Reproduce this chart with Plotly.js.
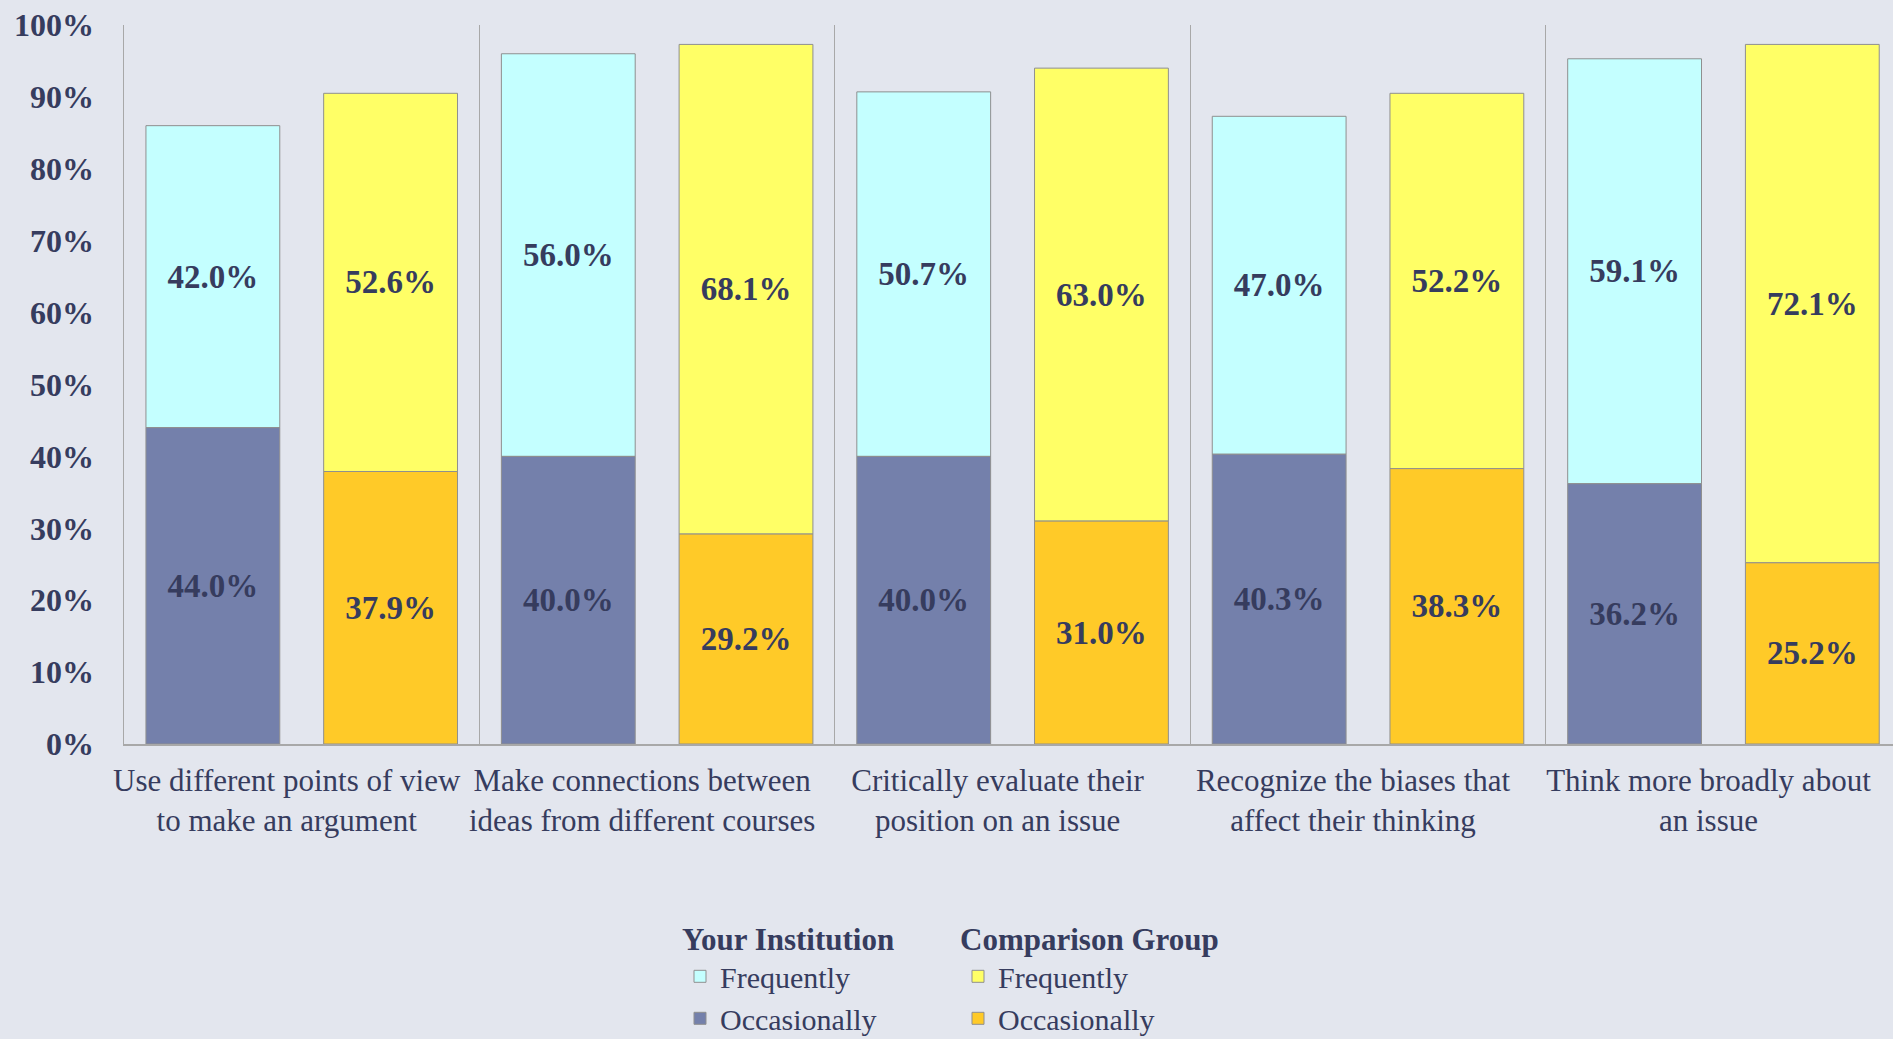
<!DOCTYPE html>
<html>
<head>
<meta charset="utf-8">
<script src="https://cdn.plot.ly/plotly-3.0.1.min.js"></script>
<style>
html,body{margin:0;padding:0;overflow:hidden;background:#e3e6ee;}
#chart{width:1893px;height:1039px;}
</style>
</head>
<body>
<div id="chart"></div>
<script>
const categories = [
  "Use different points of view<br>to make an argument",
  "Make connections between<br>ideas from different courses",
  "Critically evaluate their<br>position on an issue",
  "Recognize the biases that<br>affect their thinking",
  "Think more broadly about<br>an issue"
];
const instOccasionally = [44.0, 40.0, 40.0, 40.3, 36.2];
const instFrequently   = [42.0, 56.0, 50.7, 47.0, 59.1];
const compOccasionally = [37.9, 29.2, 31.0, 38.3, 25.2];
const compFrequently   = [52.6, 68.1, 63.0, 52.2, 72.1];
const yTicks = [0, 10, 20, 30, 40, 50, 60, 70, 80, 90, 100];
const yTickText = ['0%', '10%', '20%', '30%', '40%', '50%', '60%', '70%', '80%', '90%', '100%'];

const TXT = '#363c5e';
const SERIF = '"Liberation Serif", "DejaVu Serif", serif';
const fmt = a => a.map(v => v.toFixed(1) + '%');

function barTrace(name, y, base, color, group, legend) {
  return {
    type: 'bar', name: name, x: categories, y: y, base: base,
    offsetgroup: group, legend: legend,
    marker: {color: color, line: {color: '#8f8f8f', width: 1}},
    text: fmt(y), textposition: 'inside', insidetextanchor: 'middle',
    textangle: 0, constraintext: 'none',
    textfont: {family: SERIF, size: 33, color: TXT, weight: 'bold'},
    hoverinfo: 'skip'
  };
}

const data = [
  barTrace('Frequently', instFrequently, instOccasionally, '#c4ffff', 'inst', 'legend'),
  barTrace('Occasionally', instOccasionally, undefined, '#7480ab', 'inst', 'legend'),
  barTrace('Frequently', compFrequently, compOccasionally, '#ffff66', 'comp', 'legend2'),
  barTrace('Occasionally', compOccasionally, undefined, '#ffca28', 'comp', 'legend2')
];

const legendCommon = {
  orientation: 'v', xref: 'container', yref: 'container',
  xanchor: 'left', yanchor: 'top', bgcolor: 'rgba(0,0,0,0)',
  traceorder: 'normal',
  font: {family: SERIF, size: 30, color: TXT}
};
const legendTitleFont = {family: SERIF, size: 31, color: TXT, weight: 'bold'};

const layout = {
  width: 1893, height: 1039,
  paper_bgcolor: '#e3e6ee', plot_bgcolor: '#e3e6ee',
  margin: {l: 124, r: 0, t: 25, b: 295, autoexpand: false},
  barmode: 'group', bargap: 0, bargroupgap: 0.247,
  showlegend: true,
  font: {family: SERIF, color: TXT},
  xaxis: {
    type: 'category', range: [-0.5, 4.477], automargin: false,
    tickson: 'boundaries', showgrid: true, gridcolor: '#a8a8a8', gridwidth: 1,
    showline: true, linecolor: '#a8a8a8', linewidth: 1.5,
    ticks: '', tickangle: 0, ticklabelshift: -15, ticklabelstandoff: 8,
    tickfont: {family: SERIF, size: 31, color: TXT},
    fixedrange: true
  },
  yaxis: {
    range: [0, 100], tickmode: 'array', tickvals: yTicks, ticktext: yTickText,
    automargin: false,
    showgrid: false, zeroline: false,
    showline: true, linecolor: '#a8a8a8', linewidth: 1.5,
    ticks: '', ticklabelstandoff: 22,
    tickfont: {family: SERIF, size: 32, color: TXT, weight: 'bold'},
    fixedrange: true
  },
  legend: Object.assign({}, legendCommon, {
    x: 680 / 1893, y: 1 - 910 / 1039,
    title: {text: 'Your Institution', font: legendTitleFont, side: 'top'}
  }),
  legend2: Object.assign({}, legendCommon, {
    x: 958 / 1893, y: 1 - 910 / 1039,
    title: {text: 'Comparison Group', font: legendTitleFont, side: 'top'}
  })
};

Plotly.newPlot('chart', data, layout, {displayModeBar: false, staticPlot: true});
</script>
</body>
</html>
